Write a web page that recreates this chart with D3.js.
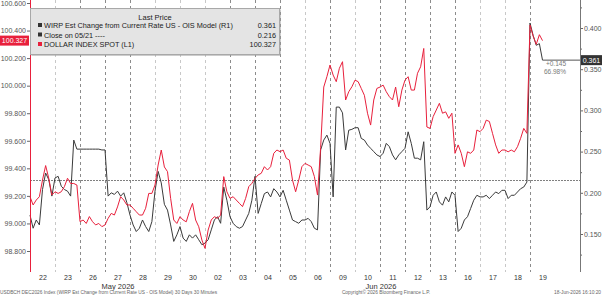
<!DOCTYPE html>
<html>
<head>
<meta charset="utf-8">
<script src="https://cdn.jsdelivr.net/npm/d3@7"></script>
<style>
  body { margin: 0; background: #fff; }
  svg { display: block; font-family: "Liberation Sans", Arial, sans-serif; }
</style>
</head>
<body>
<div id="chart"></div>
<script>
// Trading days shown on the x axis (30-minute bars, 8 samples per day)
const dayLabels = ["22", "23", "26", "27", "28", "29", "30", "02", "03", "04", "05",
                   "06", "09", "10", "11", "12", "13", "16", "17", "18", "19"];
const monthLabels = ["May 2026", "Jun 2026"];
const monthPos = [3.52, 14.04];          // in day units
const perDay = 8;

// WIRP Est Change from Current Rate US - OIS Model (right axis)
const wirp = [
  0.173, 0.157, 0.167, 0.161, 0.204, 0.224, 0.216, 0.196,   // 22
  0.218, 0.220, 0.208, 0.204, 0.202, 0.196, 0.264, 0.253,   // 23
  0.253, 0.253, 0.253, 0.253, 0.253, 0.253, 0.253, 0.252,   // 26
  0.252, 0.196, 0.200, 0.198, 0.202, 0.196, 0.200, 0.188,   // 27
  0.173, 0.161, 0.153, 0.157, 0.167, 0.159, 0.153, 0.165,   // 28
  0.202, 0.226, 0.212, 0.186, 0.179, 0.161, 0.141, 0.149,   // 29
  0.159, 0.145, 0.141, 0.149, 0.145, 0.149, 0.143, 0.137,   // 30
  0.139, 0.143, 0.155, 0.167, 0.171, 0.163, 0.207, 0.191,   // 02
  0.171, 0.163, 0.159, 0.157, 0.159, 0.167, 0.175, 0.191,   // 03
  0.220, 0.175, 0.187, 0.199, 0.201, 0.195, 0.205, 0.201,   // 04
  0.195, 0.203, 0.191, 0.179, 0.167, 0.165, 0.163, 0.167,   // 05
  0.167, 0.169, 0.165, 0.157, 0.155, 0.252, 0.264, 0.270,   // 06
  0.260, 0.195, 0.304, 0.304, 0.297, 0.252, 0.276, 0.277,   // 09
  0.279, 0.279, 0.266, 0.264, 0.258, 0.254, 0.250, 0.246,   // 10
  0.244, 0.248, 0.260, 0.256, 0.246, 0.240, 0.246, 0.250,   // 11
  0.254, 0.274, 0.260, 0.242, 0.242, 0.240, 0.262, 0.179,   // 12
  0.183, 0.197, 0.201, 0.189, 0.185, 0.195, 0.189, 0.201,   // 13
  0.197, 0.153, 0.157, 0.167, 0.171, 0.181, 0.191, 0.197,   // 16
  0.195, 0.195, 0.197, 0.193, 0.197, 0.201, 0.199, 0.203,   // 17
  0.203, 0.193, 0.197, 0.197, 0.201, 0.205, 0.207, 0.213,   // 18
  0.406, 0.391, 0.379, 0.381, 0.361                         // 19
];

// DOLLAR INDEX SPOT (left axis)
const dxy = [
  99.194, 99.134, 99.170, 99.194, 99.315, 99.420, 99.328, 99.206,   // 22
  99.230, 99.218, 99.230, 99.267, 99.328, 99.290, 99.290, 99.279,   // 23
  99.013, 99.025, 99.000, 99.050, 99.013, 98.989, 99.000, 98.977,   // 26
  98.989, 99.037, 99.073, 99.061, 99.120, 99.194, 99.170, 99.134,   // 27
  99.134, 99.110, 99.085, 99.061, 99.061, 99.110, 99.218, 99.218,   // 28
  99.279, 99.424, 99.533, 99.410, 99.376, 99.182, 99.025, 99.000,   // 29
  99.049, 99.025, 99.012, 99.086, 99.146, 99.025, 98.976, 98.880,   // 30
  98.819, 98.952, 99.025, 99.049, 99.037, 99.061, 99.340, 99.230,   // 02
  99.182, 99.194, 99.170, 99.146, 99.122, 99.182, 99.267, 99.291,   // 03
  99.327, 99.352, 99.364, 99.412, 99.388, 99.412, 99.509, 99.533,   // 04
  99.521, 99.533, 99.473, 99.460, 99.315, 99.230, 99.315, 99.412,   // 05
  99.436, 99.424, 99.412, 99.340, 99.206, 99.550, 99.990, 100.065,  // 06
  100.150, 100.077, 100.029, 100.126, 100.174, 99.896, 99.956, 99.992, // 09
  100.040, 100.029, 99.980, 99.930, 99.800, 99.714, 99.896, 99.980, // 10
  99.990, 100.004, 99.956, 99.920, 99.896, 99.990, 99.847, 99.968,  // 11
  100.040, 100.065, 99.968, 99.968, 100.090, 100.137, 100.270, 99.700, // 12
  99.690, 99.775, 99.823, 99.872, 99.800, 99.810, 99.763, 99.800,   // 13
  99.509, 99.570, 99.509, 99.412, 99.520, 99.509, 99.533, 99.678,   // 16
  99.666, 99.690, 99.750, 99.740, 99.654, 99.570, 99.509, 99.533,   // 17
  99.533, 99.520, 99.533, 99.520, 99.557, 99.618, 99.690, 99.654,   // 18
  100.440, 100.360, 100.300, 100.370, 100.327                       // 19
];

const closeValue = 0.216;      // Close on 05/21
const leftTicks = [98.8, 99.0, 99.2, 99.4, 99.6, 99.8, 100.0, 100.2, 100.4, 100.6];
const rightTicks = [0.15, 0.20, 0.25, 0.30, 0.35, 0.40];
const rightMinor = [0.125, 0.175, 0.225, 0.275, 0.325, 0.375, 0.425];
const darkGrid = [2, 3, 4, 8, 9, 10, 12, 14, 15, 16, 17, 20];

const legendRows = [
  { label: "WIRP Est Change from Current Rate US - OIS Model  (R1)", value: "0.361", color: "#333" },
  { label: "Close on 05/21 ----", value: "0.216", color: "#333" },
  { label: "DOLLAR INDEX SPOT  (L1)", value: "100.327", color: "#e8203c" }
];

const width = 602, height = 296;
const red = "#e8203c", dark = "#3a3a3a";
const font = "'Liberation Sans', Arial, sans-serif";

const svg = d3.select("#chart").append("svg")
    .attr("width", width)
    .attr("height", height);

// Scales
const x = d3.scaleLinear().domain([0, 22]).range([30, 580]);
const yL = d3.scaleLinear().domain([98.8, 100.6]).range([251, 3]);
const yR = d3.scaleLinear().domain([0.15, 0.40]).range([234, 28]);
const plotBottom = 272;

// Day boundary grid
svg.append("g").selectAll("line")
    .data(d3.range(1, 21))
    .join("line")
    .attr("x1", d => x(d) + 0.5).attr("x2", d => x(d) + 0.5)
    .attr("y1", 0).attr("y2", plotBottom)
    .attr("stroke", d => darkGrid.includes(d) ? "#8c8c8c" : "#c8c8c8")
    .attr("stroke-width", 1)
    .attr("stroke-dasharray", "3,3");

// Close on 05/21 line
svg.append("line")
    .attr("x1", 30).attr("x2", 580)
    .attr("y1", Math.round(yR(closeValue)) + 0.5).attr("y2", Math.round(yR(closeValue)) + 0.5)
    .attr("stroke", "#808080")
    .attr("stroke-dasharray", "2,1");

// Series
const lineR = d3.line().x((d, i) => x(i / perDay)).y(d => yR(d));
const lineL = d3.line().x((d, i) => x(i / perDay)).y(d => yL(d));

svg.append("path").datum(wirp)
    .attr("fill", "none").attr("stroke", dark).attr("stroke-width", 1)
    .attr("d", lineR);

svg.append("path").datum(dxy)
    .attr("fill", "none").attr("stroke", red).attr("stroke-width", 1)
    .attr("d", lineL);

// Last value extension for WIRP
const lastX = x((wirp.length - 1) / perDay);
const lastW = wirp[wirp.length - 1];
svg.append("line")
    .attr("x1", lastX).attr("x2", 580)
    .attr("y1", yR(lastW)).attr("y2", yR(lastW))
    .attr("stroke", "#555");

svg.append("text")
    .attr("x", 566).attr("y", 66)
    .attr("text-anchor", "end")
    .attr("fill", "#7a7a7a")
    .style("font-size", "6.5px")
    .text("+0.145");
svg.append("text")
    .attr("x", 566).attr("y", 74)
    .attr("text-anchor", "end")
    .attr("fill", "#7a7a7a")
    .style("font-size", "6.5px")
    .text("66.98%");

// Left axis
const leftAxis = svg.append("g")
    .attr("transform", "translate(30,0)")
    .call(d3.axisLeft(yL).tickValues(leftTicks).tickFormat(d3.format(".3f")).tickSize(3).tickPadding(1));
leftAxis.select(".domain").remove();
leftAxis.selectAll(".tick line").attr("stroke", "#666");
leftAxis.selectAll(".tick text").attr("fill", "#555")
    .style("font-size", "7px").style("font-family", font);
svg.append("line")
    .attr("x1", 30.5).attr("x2", 30.5).attr("y1", 0).attr("y2", plotBottom)
    .attr("stroke", red).attr("stroke-width", 1);

// Right axis
const rightAxis = svg.append("g")
    .attr("transform", "translate(580,0)")
    .call(d3.axisRight(yR).tickValues(rightTicks).tickFormat(d3.format(".3f")).tickSize(3).tickPadding(1));
rightAxis.select(".domain").remove();
rightAxis.selectAll(".tick line").attr("stroke", "#666");
rightAxis.selectAll(".tick text").attr("fill", "#555")
    .style("font-size", "7px").style("font-family", font);
const rightMinorAxis = svg.append("g")
    .attr("transform", "translate(580,0)")
    .call(d3.axisRight(yR).tickValues(rightMinor).tickFormat("").tickSize(2));
rightMinorAxis.select(".domain").remove();
rightMinorAxis.selectAll(".tick line").attr("stroke", "#666");
svg.append("line")
    .attr("x1", 580.5).attr("x2", 580.5).attr("y1", 0).attr("y2", plotBottom)
    .attr("stroke", "#777").attr("stroke-width", 1);

// Last price labels on the axes
const lastD = dxy[dxy.length - 1];
svg.append("rect")
    .attr("x", 0).attr("y", yL(lastD) - 5).attr("width", 29).attr("height", 10)
    .attr("fill", red);
svg.append("text")
    .attr("x", 14.5).attr("y", yL(lastD) + 2.5)
    .attr("text-anchor", "middle")
    .attr("fill", "#fff")
    .style("font-size", "7px")
    .text(d3.format(".3f")(lastD));

svg.append("rect")
    .attr("x", 581).attr("y", yR(lastW) - 5).attr("width", 21).attr("height", 10)
    .attr("fill", "#333");
svg.append("text")
    .attr("x", 591.5).attr("y", yR(lastW) + 2.5)
    .attr("text-anchor", "middle")
    .attr("fill", "#fff")
    .style("font-size", "7px")
    .text(d3.format(".3f")(lastW));

// Bottom axis: day labels centred in each day
const bottomAxis = svg.append("g")
    .attr("transform", `translate(0,${plotBottom})`)
    .call(d3.axisBottom(x)
        .tickValues(d3.range(dayLabels.length).map(i => i + 0.5))
        .tickFormat(d => dayLabels[Math.floor(d)])
        .tickSize(0).tickPadding(3));
bottomAxis.select(".domain").remove();
bottomAxis.selectAll(".tick text").attr("fill", "#333")
    .style("font-size", "7px").style("font-family", font);

svg.append("g").selectAll("text")
    .data(monthLabels)
    .join("text")
    .attr("x", (d, i) => x(monthPos[i]))
    .attr("y", 289)
    .attr("text-anchor", "middle")
    .attr("fill", "#333")
    .style("font-size", "7.5px")
    .text(d => d);

// Footer
svg.append("text").attr("x", 0).attr("y", 294)
    .attr("fill", "#666").style("font-size", "4.8px")
    .text("USDBCH DEC2026 Index (WIRP Est Change from Current Rate US - OIS Model) 30 Days 30 Minutes");
svg.append("text").attr("x", 386).attr("y", 294)
    .attr("text-anchor", "middle")
    .attr("fill", "#666").style("font-size", "4.8px")
    .text("Copyright\u00a9 2026 Bloomberg Finance L.P.");
svg.append("text").attr("x", 601).attr("y", 294)
    .attr("text-anchor", "end")
    .attr("fill", "#666").style("font-size", "4.8px")
    .text("18-Jun-2026 16:10:20");

// Legend
const legend = svg.append("g");
legend.append("rect")
    .attr("x", 31.5).attr("y", 9.5).attr("width", 249).attr("height", 46)
    .attr("fill", "#999");
legend.append("rect")
    .attr("x", 30.5).attr("y", 8.5).attr("width", 249).attr("height", 46)
    .attr("fill", "#e4e4e4").attr("stroke", "#a8a8a8");
legend.append("text")
    .attr("x", 155).attr("y", 20)
    .attr("text-anchor", "middle")
    .attr("fill", "#222")
    .style("font-size", "7.5px")
    .text("Last Price");
legendRows.forEach((r, i) => {
    const yy = 28 + i * 9.5;
    legend.append("rect")
        .attr("x", 38).attr("y", yy - 5).attr("width", 4).attr("height", 4)
        .attr("fill", r.color);
    legend.append("text")
        .attr("x", 44).attr("y", yy)
        .attr("fill", "#222")
        .style("font-size", "7.3px")
        .text(r.label);
    legend.append("text")
        .attr("x", 276).attr("y", yy)
        .attr("text-anchor", "end")
        .attr("fill", "#222")
        .style("font-size", "7.3px")
        .text(r.value);
});
</script>
</body>
</html>
